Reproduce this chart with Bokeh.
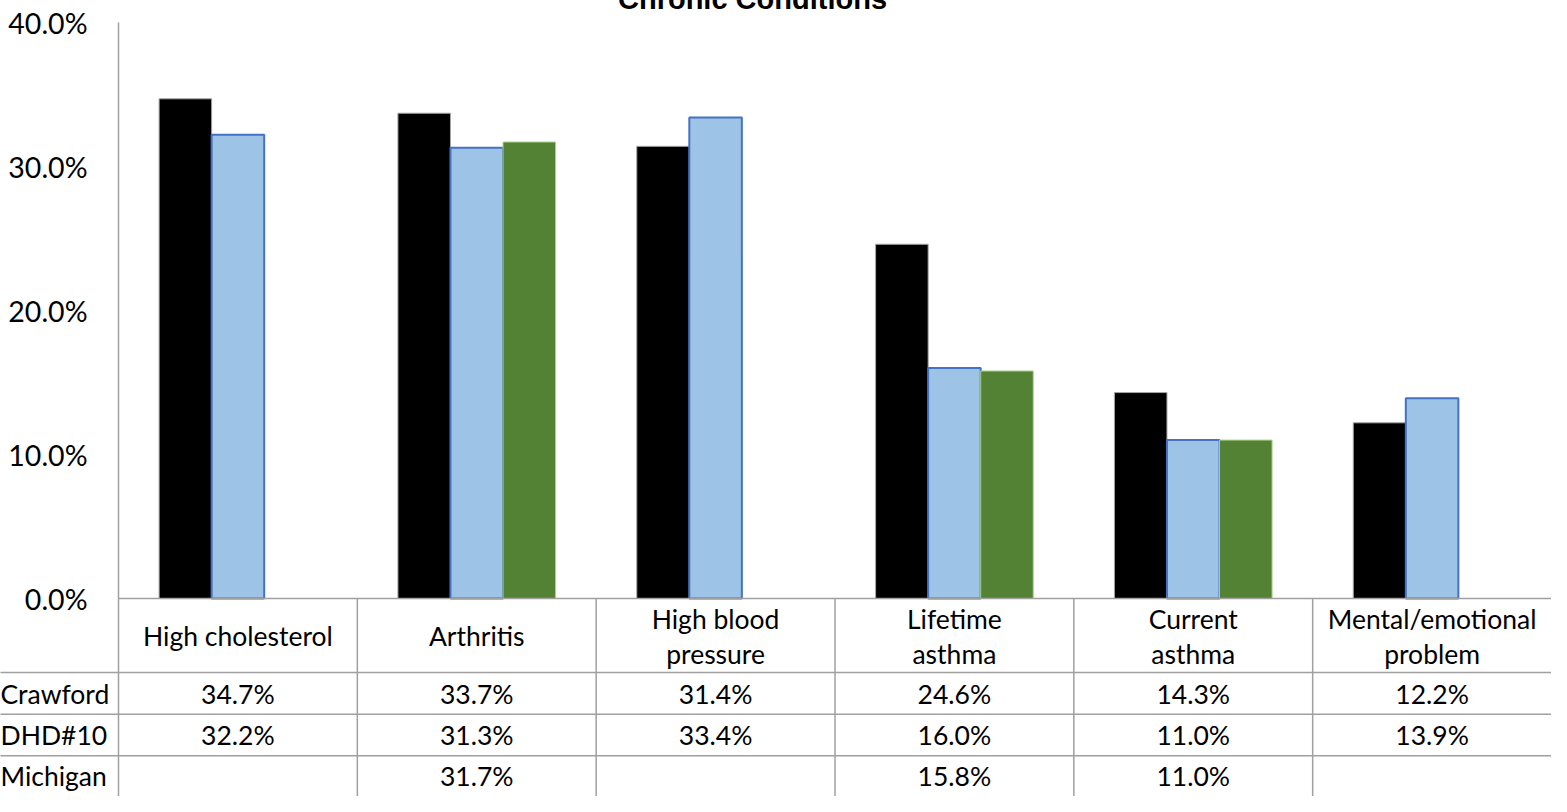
from bokeh.plotting import figure
from bokeh.models import Range1d, FixedTicker, PrintfTickFormatter
from bokeh.core.properties import value
from bokeh.embed import file_html
from bokeh.resources import INLINE

# ---------------- data ----------------
categories = ["High cholesterol", "Arthritis", "High blood\npressure",
              "Lifetime\nasthma", "Current\nasthma", "Mental/emotional\nproblem"]
series_names = ["Crawford", "DHD#10", "Michigan"]
crawford = [34.7, 33.7, 31.4, 24.6, 14.3, 12.2]
dhd10 = [32.2, 31.3, 33.4, 16.0, 11.0, 13.9]
michigan = [None, 31.7, None, 15.8, 11.0, None]
y_ticks = [0, 10, 20, 30, 40]
title_text = "Chronic Conditions"

series_values = [crawford, dhd10, michigan]
series_fill = ["#000000", "#9DC3E6", "#548235"]
series_line = ["#A6A6A6", "#4472C4", "#A9D18E"]
series_lw = [1, 2, 1]

# ---------------- layout ----------------
W, H = 1551, 796
REF_W, REF_H = 1567, 812
AX_X, ZERO_Y, TOP_Y = 118, 598, 22
PX_PER_UNIT = (ZERO_Y - TOP_Y) / 40.0
n = len(categories)
CAT_W = (W - AX_X) / n
TABLE_SCALE = (H - ZERO_Y) / (REF_H - ZERO_Y)
TITLE_X = 752


def vy(ref_y):
    """reference pixel row -> value units (table area compressed to fit)"""
    fy = ref_y if ref_y <= ZERO_Y else ZERO_Y + (ref_y - ZERO_Y) * TABLE_SCALE
    return (ZERO_Y - fy) / PX_PER_UNIT


FONT = "Lato"
GRID = "#A0A0A0"
TXT = "26.5px"

p = figure(width=W, height=H, output_backend="svg", toolbar_location=None,
           x_range=Range1d(0, n),
           y_range=Range1d(vy(REF_H), 40),
           x_axis_location=None, y_axis_location="left",
           min_border_left=AX_X, min_border_right=0,
           min_border_top=TOP_Y, min_border_bottom=0)
p.xgrid.visible = False
p.ygrid.visible = False
p.outline_line_color = None
p.background_fill_color = "white"
p.border_fill_color = "white"

ax = p.yaxis[0]
ax.ticker = FixedTicker(ticks=y_ticks)
ax.formatter = PrintfTickFormatter(format="%.1f%%")
ax.major_tick_out = 0
ax.major_tick_in = 0
ax.minor_tick_out = 0
ax.minor_tick_in = 0
ax.axis_line_color = GRID
ax.axis_line_width = 1.5
ax.major_label_standoff = 31
ax.major_label_text_font = FONT
ax.major_label_text_font_size = "28.5px"
ax.major_label_text_color = "#000000"

# ---------------- bars ----------------
bar_w = 0.22
offsets = [-bar_w, 0.0, bar_w]
for vals, off, fc, lc, lw in zip(series_values, offsets, series_fill, series_line, series_lw):
    xs = [i + 0.5 + off for i, v in enumerate(vals) if v is not None]
    tops = [v for v in vals if v is not None]
    p.vbar(x=xs, top=tops, bottom=0, width=bar_w, fill_color=fc,
           line_color=lc, line_width=lw)

# ---------------- data table ----------------
left_edge = -AX_X / CAT_W
row_bounds = [678, 723, 768]
x0s, y0s, x1s, y1s = [0], [0], [n], [0]
for rb in row_bounds:
    x0s.append(left_edge); y0s.append(vy(rb)); x1s.append(n); y1s.append(vy(rb))
for k in range(1, n):
    x0s.append(k); y0s.append(0); x1s.append(k); y1s.append(vy(REF_H))
p.segment(x0=x0s, y0=y0s, x1=x1s, y1=y1s, line_color=GRID, line_width=1.5,
          level="overlay")

p.text(x=[i + 0.5 for i in range(n)], y=[vy(639)] * n, text=categories,
       text_align="center", text_baseline="middle", text_font=value(FONT),
       text_font_size=TXT, text_color="#000000", text_line_height=1.1)

row_centers = [701, 746, 790]
for name, vals, rc in zip(series_names, series_values, row_centers):
    xs = [i + 0.5 for i, v in enumerate(vals) if v is not None]
    txt = ["%.1f%%" % v for v in vals if v is not None]
    p.text(x=xs, y=[vy(rc)] * len(xs), text=txt, text_align="center",
           text_baseline="middle", text_font=value(FONT), text_font_size=TXT,
           text_color="#000000")
    p.text(x=[left_edge], y=[vy(rc)], text=[name], text_align="left",
           text_baseline="middle", text_font=value(FONT), text_font_size=TXT,
           text_color="#000000", level="overlay")

# ---------------- title (cut at the top as in the original) ----------------
p.text(x=[(TITLE_X - AX_X) / CAT_W], y=[vy(-2)], text=[title_text],
       text_align="center", text_baseline="middle",
       text_font=value("Liberation Sans"), text_font_style="bold",
       text_font_size="29px", text_color="#000000", level="overlay")

open("out.html", "w").write(file_html(p, INLINE))
